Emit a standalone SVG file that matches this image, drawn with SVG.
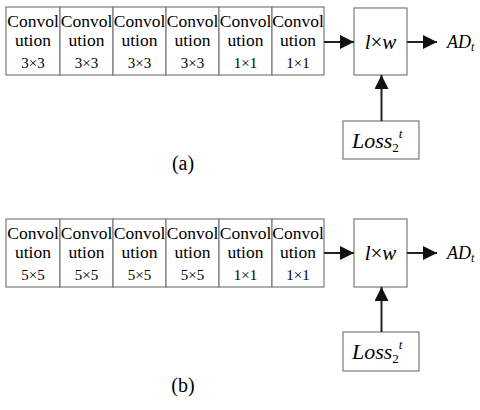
<svg xmlns="http://www.w3.org/2000/svg" width="480" height="410" viewBox="0 0 480 410">
<style>
.box{fill:#fff;stroke:#7a7a7a;stroke-width:1.2}
.m{text-anchor:middle}
.s{text-anchor:start}
.c{font-size:17.5px}
.k{font-size:15px}
.i{font-style:italic}
.ln{stroke:#222;stroke-width:2;fill:none}
</style>
<defs>
<marker id="a" viewBox="0 0 14 14" refX="14" refY="7" markerWidth="14" markerHeight="14" markerUnits="userSpaceOnUse" orient="auto">
<path d="M0,0 L14,7 L0,14 Z" fill="#111"/>
</marker>
</defs>
<rect width="480" height="410" fill="#fff"/>
<g id="panel-a">
<g id="a-conv1"><rect class="box" x="6" y="7" width="54" height="68"/><text font-family="Liberation Serif" class="m c" x="33" y="27">Convol</text><text font-family="Liberation Serif" class="m c" x="33" y="46">ution</text><text font-family="Liberation Serif" class="m k" x="33" y="68">3×3</text></g>
<g id="a-conv2"><rect class="box" x="60" y="7" width="53" height="68"/><text font-family="Liberation Serif" class="m" font-size="17.5" x="86.5" y="27">Convol</text><text font-family="Liberation Serif" class="m" font-size="17.5" x="86.5" y="46">ution</text><text font-family="Liberation Serif" class="m" font-size="15" x="86.5" y="68">3×3</text></g>
<g id="a-conv3"><rect x="113" y="7" width="53" height="68" fill="#fff" stroke="#7a7a7a" stroke-width="1.2"/><text font-family="Liberation Serif" class="m c" x="139.5" y="27">Convol</text><text font-family="Liberation Serif" class="m c" x="139.5" y="46">ution</text><text font-family="Liberation Serif" class="m k" x="139.5" y="68">3×3</text></g>
<g id="a-conv4"><rect class="box" x="166" y="7" width="53" height="68"/><text font-family="Liberation Serif" font-size="17.5" text-anchor="middle" x="192.5" y="27">Convol</text><text font-family="Liberation Serif" font-size="17.5" text-anchor="middle" x="192.5" y="46">ution</text><text font-family="Liberation Serif" font-size="15" text-anchor="middle" x="192.5" y="68">3×3</text></g>
<g id="a-conv5"><rect class="box" x="219" y="7" width="53" height="68"/><text font-family="Times New Roman" class="m c" x="245.5" y="27">Convol</text><text font-family="Times New Roman" class="m c" x="245.5" y="46">ution</text><text font-family="Times New Roman" class="m k" x="245.5" y="68">1×1</text></g>
<g id="a-conv6"><rect class="box" x="272" y="7" width="52" height="68"/><text font-family="serif" class="m c" x="298" y="27">Convol</text><text font-family="serif" class="m c" x="298" y="46">ution</text><text font-family="serif" class="m k" x="298" y="68">1×1</text></g>
<g id="a-lw"><rect class="box" x="354" y="8" width="53" height="67"/><text font-family="Liberation Serif" class="m" x="380.5" y="49" font-size="21"><tspan class="i">l</tspan>×<tspan class="i">w</tspan></text></g>
<g id="a-ad"><text font-family="Liberation Serif" class="s i" x="447" y="48" font-size="18">AD<tspan font-size="12" dy="3">t</tspan></text></g>
<g id="a-loss"><rect class="box" x="343" y="121" width="76" height="38"/><text font-family="Liberation Serif" class="s i" x="352" y="148" font-size="22">Loss<tspan font-size="13" font-style="normal" dy="4">2</tspan><tspan font-size="13" dy="-14">t</tspan></text></g>
<text font-family="Liberation Serif" class="m" x="183" y="170" font-size="20">(a)</text>
</g>
<g id="panel-b">
<g id="b-conv1"><rect class="box" x="6" y="219" width="54" height="68"/></g>
<text font-family="Liberation Serif" class="m c" x="33" y="239">Convol</text><text font-family="Liberation Serif" class="m c" x="33" y="258">ution</text><text font-family="Liberation Serif" class="m k" x="33" y="280">5×5</text>
<g id="b-conv2"><rect class="box" x="60" y="219" width="53" height="68"/><text font-family="Liberation Serif" class="m c" x="86.5" y="239">Convol</text></g><g id="b-conv2t"><text font-family="Liberation Serif" class="m c" x="86.5" y="258">ution</text><text font-family="Liberation Serif" class="m k" x="86.5" y="280">5×5</text></g>
<g id="b-conv3"><rect class="box" x="113" y="219" width="53" height="68"/><text font-family="Liberation Serif" class="m c" x="139.5" y="239">Convol</text><text font-family="Liberation Serif" class="m c" x="139.5" y="258">ution</text><text font-family="Liberation Serif" class="m k" x="139.5" y="280">5×5</text></g>
<g id="b-conv4"><rect class="box" x="166" y="219" width="53" height="68"/><text font-family="Liberation Serif" class="m c" x="192.5" y="239">Convol</text><text font-family="Liberation Serif" class="m c" x="192.5" y="258">ution</text><text font-family="Liberation Serif" class="m k" x="192.5" y="280">5×5</text></g>
<g id="b-conv5"><rect class="box" x="219" y="219" width="53" height="68"/><text font-family="Liberation Serif" class="m c" x="245.5" y="239">Convol</text><text font-family="Liberation Serif" class="m c" x="245.5" y="258">ution</text><text font-family="Liberation Serif" class="m k" x="245.5" y="280">1×1</text></g>
<g id="b-conv6"><rect class="box" x="272" y="219" width="52" height="68"/><text font-family="Liberation Serif" class="m c" x="298" y="239">Convol</text><text font-family="Liberation Serif" class="m c" x="298" y="258">ution</text><text font-family="Liberation Serif" class="m k" x="298" y="280">1×1</text></g>
<g id="b-lw"><rect class="box" x="354" y="219" width="53" height="68"/><text font-family="Liberation Serif" class="m" x="380.5" y="260" font-size="21"><tspan class="i">l</tspan>×<tspan class="i">w</tspan></text></g>
<g id="b-ad"><text font-family="Liberation Serif" class="s i" x="447" y="259" font-size="18">AD<tspan font-size="12" dy="3">t</tspan></text></g>
<g id="b-loss"><rect class="box" x="343" y="332" width="76" height="39"/><text font-family="Liberation Serif" class="s i" x="352" y="359" font-size="22">Loss<tspan font-size="13" font-style="normal" dy="4">2</tspan><tspan font-size="13" dy="-14">t</tspan></text></g>
<text font-family="Liberation Serif" class="m" x="183" y="392" font-size="20">(b)</text>
</g>
<g id="connectors">
<line class="ln" x1="324" y1="42" x2="354" y2="42" marker-end="url(#a)"/>
<line class="ln" x1="407" y1="42" x2="437" y2="42" marker-end="url(#a)"/>
<line class="ln" x1="381.5" y1="121" x2="381.5" y2="75" marker-end="url(#a)"/>
<line class="ln" x1="324" y1="253" x2="354" y2="253" marker-end="url(#a)"/>
<line class="ln" x1="407" y1="253" x2="437" y2="253" marker-end="url(#a)"/>
<line class="ln" x1="381.5" y1="332" x2="381.5" y2="287" marker-end="url(#a)"/>
</g>
</svg>
